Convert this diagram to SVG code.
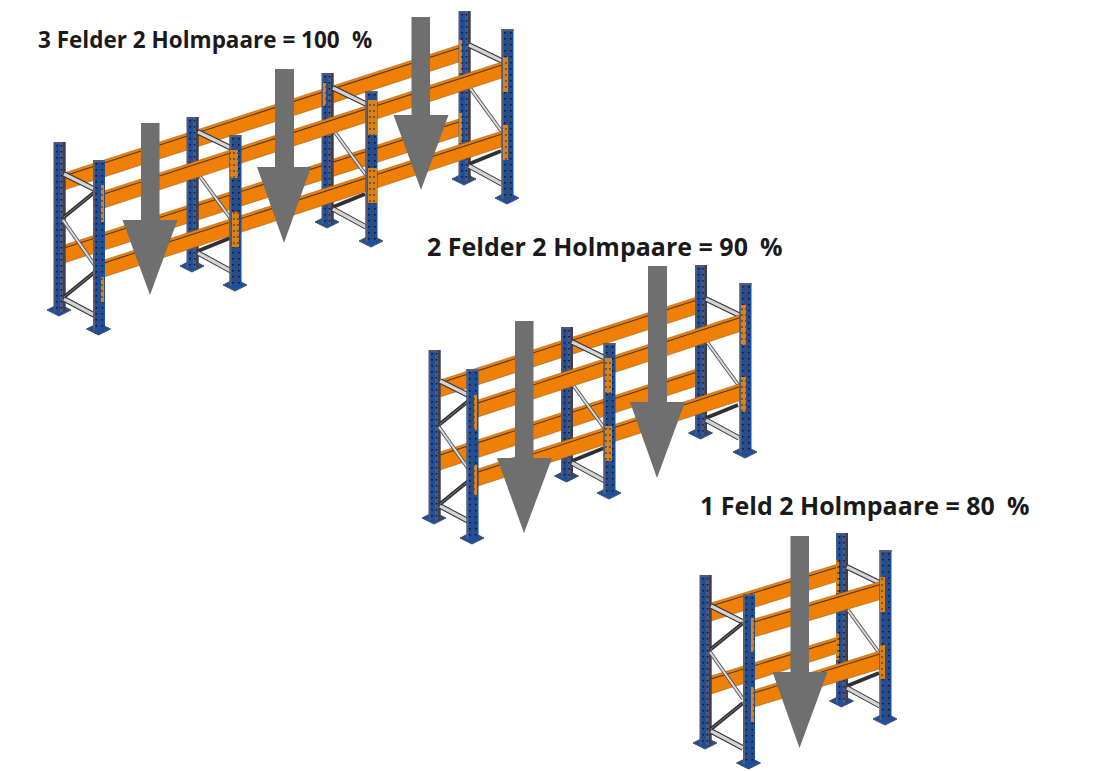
<svg xmlns="http://www.w3.org/2000/svg" width="1096" height="771" viewBox="0 0 1096 771">
<style>
.t{font-family:"Open Sans","Noto Sans","Liberation Sans",sans-serif;font-weight:700;fill:#1a1a1a}
.b{fill:#ef7f05;stroke:#8a5a20;stroke-width:.5}
.l{stroke:#4a3a20;stroke-width:1.1;fill:none}
.p{fill:url(#ph)}
.a{fill:#6f6f6f}
.foot{fill:#1d4f9f;stroke:#4a505e;stroke-width:1}
.holes{stroke:#0e1524;stroke-width:1.5;stroke-dasharray:1.6 4.4;fill:none}
.sd{stroke:#2f3238;stroke-width:5.4;fill:none}
.sl{stroke:#d4d4d4;stroke-width:3.4;fill:none}
.dd{stroke:#2e3036;stroke-width:3.8;fill:none}
.dl{stroke:#8e9095;stroke-width:.8;fill:none}
.gd{stroke:#50535a;stroke-width:3.8;fill:none}
.gl{stroke:#dcdcdc;stroke-width:2;fill:none}
</style>
<defs>
<pattern id="ph" width="4" height="6" patternUnits="userSpaceOnUse"><rect width="4" height="6" fill="#d9821c"/><circle cx="2" cy="3" r="0.9" fill="#4a4030"/></pattern>
<g id="backT"><polygon class="foot" points="-12,0 0,-6 12,0 0,6"/><rect x="-5.5" y="-168" width="12" height="170" fill="#50587a"/><rect x="-3.5" y="-166" width="4.500" height="168" fill="#1d4f9f"/><rect x="4" y="-168" width="2.500" height="170" fill="#3a3f52"/><line class="holes" x1="-2" y1="-165" x2="-2" y2="0"/><line class="holes" x1="2.500" y1="-165" x2="2.500" y2="0"/></g>
<g id="backS"><polygon class="foot" points="-12,0 0,-6 12,0 0,6"/><rect x="-5.5" y="-149" width="12" height="151" fill="#50587a"/><rect x="-3.5" y="-147" width="4.500" height="149" fill="#1d4f9f"/><rect x="4" y="-149" width="2.500" height="151" fill="#3a3f52"/><line class="holes" x1="-2" y1="-146" x2="-2" y2="0"/><line class="holes" x1="2.500" y1="-146" x2="2.500" y2="0"/></g>
<g id="frontT"><polygon class="foot" points="-12,1 0,-5 12,1 0,7"/><rect x="-5.5" y="-168" width="12" height="170" fill="#1d4f9f"/><rect x="-5.5" y="-168" width="2" height="170" fill="#5a6072"/><rect x="0.500" y="-168" width="1.500" height="170" fill="#3f4a68"/><rect x="-5.5" y="-168" width="12" height="2" fill="#5a6072"/><line class="holes" x1="-2.200" y1="-165" x2="-2.200" y2="0"/><line class="holes" x1="3.800" y1="-165" x2="3.800" y2="0"/></g>
<g id="frontS"><polygon class="foot" points="-12,1 0,-5 12,1 0,7"/><rect x="-5.5" y="-149" width="12" height="151" fill="#1d4f9f"/><rect x="-5.5" y="-149" width="2" height="151" fill="#5a6072"/><rect x="0.500" y="-149" width="1.500" height="151" fill="#3f4a68"/><rect x="-5.5" y="-149" width="12" height="2" fill="#5a6072"/><line class="holes" x1="-2.200" y1="-146" x2="-2.200" y2="0"/><line class="holes" x1="3.800" y1="-146" x2="3.800" y2="0"/></g>
<g id="braceA">
<path class="sd" d="M6,-137L38,-121M6,-12L38,5"/><path class="sl" d="M6,-137L38,-121M6,-12L38,5"/>
<path class="dd" d="M38,-120L6,-94M38,-40L6,-14"/><path class="dl" d="M38,-120L6,-94M38,-40L6,-14"/>
<path class="gd" d="M5,-91L38,-44"/><path class="gl" d="M5,-91L38,-44"/>
</g>
<g id="braceB">
<path class="dd" d="M38,-28L6,-15"/>
<path class="sd" d="M6,-134L39,-118M6,-13L39,5"/><path class="sl" d="M6,-134L39,-118M6,-13L39,5"/>
<path class="gd" d="M7,-91L39,-47"/><path class="gl" d="M7,-91L39,-47"/>
</g>
</defs>

<g id="rack1">
<polygon class="b" points="64,173 462,44 462,61 64,190"/><line class="l" x1="64" y1="176" x2="462" y2="47"/>
<polygon class="b" points="64,245 462,118 462,135 64,263"/><line class="l" x1="64" y1="248" x2="462" y2="121"/>
<use href="#backT" x="59" y="310"/><use href="#backS" x="192" y="266"/><use href="#backS" x="327" y="222"/><use href="#backT" x="464" y="179"/>
<use href="#braceA" x="58" y="311"/><use href="#braceB" x="192" y="266"/><use href="#braceB" x="327" y="222"/><use href="#braceB" x="463" y="179"/>
<rect class="p" x="323" y="83" width="3" height="23"/><rect class="p" x="459" y="40" width="3" height="33"/><rect class="p" x="459" y="113" width="3" height="30"/>
<polygon class="b" points="104,191 505,61 505,77 104,208"/><line class="l" x1="104" y1="194" x2="505" y2="64"/>
<polygon class="b" points="104,260 505,130 505,146 104,277"/><line class="l" x1="104" y1="263" x2="505" y2="133"/>
<use href="#frontT" x="98.5" y="328"/><use href="#frontS" x="235" y="284"/><use href="#frontS" x="371" y="240"/><use href="#frontT" x="507" y="197"/>
<rect class="p" x="101" y="185" width="3" height="37"/><rect class="p" x="101" y="277" width="3" height="25"/><rect class="p" x="230" y="150" width="8" height="28"/><rect class="p" x="232" y="212" width="7" height="35"/><rect class="p" x="368" y="100" width="9" height="35"/><rect class="p" x="368" y="168" width="9" height="35"/><rect class="p" x="503" y="57" width="5" height="35"/><rect class="p" x="503" y="125" width="5" height="35"/>
<polygon class="a" points="141,123 159.500,123 159.500,220 177.500,220 150,295 122.500,220 141,220"/>
<polygon class="a" points="275,69 294,69 294,167 311,167 284,243 257,167 275,167"/>
<polygon class="a" points="411.500,17 430,17 430,115 448.500,115 421,190 393.500,115 411.500,115"/>
<text class="t" font-size="22.5" x="38" y="47.500">3 Felder 2 Holmpaare = 100 <tspan x="352">%</tspan></text>
</g>

<g id="rack2">
<polygon class="b" points="440,380 700,296 700,313 440,397"/><line class="l" x1="440" y1="383" x2="700" y2="299"/>
<polygon class="b" points="440,452 700,368 700,385 440,470"/><line class="l" x1="440" y1="455" x2="700" y2="371"/>
<use href="#backT" x="434" y="518"/><use href="#backS" x="566.500" y="476"/><use href="#backT" x="700.500" y="433"/>
<use href="#braceA" x="434" y="518"/><use href="#braceB" x="566" y="476"/><use href="#braceB" x="700" y="433"/>
<polygon class="b" points="478,400 745,313 745,330 478,417"/><line class="l" x1="478" y1="403" x2="745" y2="316"/>
<polygon class="b" points="478,469 745,382 745,399 478,486"/><line class="l" x1="478" y1="472" x2="745" y2="385"/>
<use href="#frontT" x="472" y="537"/><use href="#frontS" x="609" y="492"/><use href="#frontT" x="745" y="451"/>
<rect class="p" x="474" y="395" width="3" height="35"/><rect class="p" x="474" y="465" width="3" height="30"/><rect class="p" x="605" y="358" width="7" height="35"/><rect class="p" x="605" y="426" width="7" height="35"/><rect class="p" x="741" y="305" width="5" height="40"/><rect class="p" x="741" y="377" width="5" height="35"/>
<polygon class="a" points="515,321 533.500,321 533.500,458 552,458 524,533 497,458 515,458"/>
<polygon class="a" points="648,266 667,266 667,402 685,402 657,478 630,402 648,402"/>
<text class="t" font-size="25" x="427" y="256">2 Felder 2 Holmpaare = 90 <tspan x="760">%</tspan></text>
</g>

<g id="rack3">
<polygon class="b" points="711,603 838,564 838,581 711,621"/><line class="l" x1="711" y1="606" x2="838" y2="567"/>
<polygon class="b" points="711,676 838,637 838,653 711,694"/><line class="l" x1="711" y1="679" x2="838" y2="640"/>
<use href="#backT" x="705" y="743"/><use href="#backT" x="841.500" y="701"/>
<use href="#braceA" x="705" y="743"/><use href="#braceB" x="841" y="701"/>
<rect class="p" x="836" y="560" width="3" height="33"/><rect class="p" x="836" y="633" width="3" height="27"/>
<polygon class="b" points="754,619 882,581 882,599 754,637"/><line class="l" x1="754" y1="622" x2="882" y2="584"/>
<polygon class="b" points="754,690 883,650 883,668 754,707"/><line class="l" x1="754" y1="693" x2="883" y2="653"/>
<use href="#frontT" x="748.500" y="762"/><use href="#frontT" x="885" y="718"/>
<rect class="p" x="751" y="618" width="3" height="34"/><rect class="p" x="751" y="687" width="3" height="35"/><rect class="p" x="880" y="577" width="5" height="35"/><rect class="p" x="880" y="645" width="5" height="34"/>
<polygon class="a" points="790.500,536 809,536 809,672 827.500,672 799.500,748 772.500,672 790.500,672"/>
<text class="t" font-size="25" x="700" y="515">1 Feld 2 Holmpaare = 80 <tspan x="1007">%</tspan></text>
</g>
</svg>
